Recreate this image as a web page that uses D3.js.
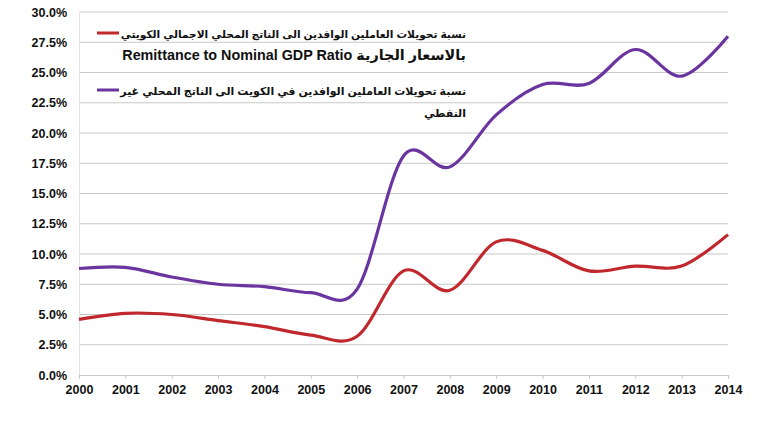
<!DOCTYPE html>
<html>
<head>
<meta charset="utf-8">
<script src="https://cdn.jsdelivr.net/npm/d3@7"></script>
<style>
  body { margin: 0; background: #fff; }
  text { font-family: "Liberation Sans", Arial, "DejaVu Sans", sans-serif; }
</style>
</head>
<body>
<script>

// years on the x axis
var years = [2000, 2001, 2002, 2003, 2004, 2005, 2006, 2007, 2008, 2009, 2010, 2011, 2012, 2013, 2014];

// remittances / nominal GDP (red)
var gdp_ratio = [4.6, 5.1, 5.0, 4.5, 4.0, 3.3, 3.2, 8.6, 7.0, 11.0, 10.3, 8.6, 9.0, 9.0, 11.6];

// remittances / non-oil GDP (purple)
var non_oil_ratio = [8.8, 8.9, 8.1, 7.5, 7.3, 6.8, 7.1, 18.1, 17.2, 21.5, 24.0, 24.1, 26.9, 24.7, 28.0];

var y_ticks = [0, 2.5, 5, 7.5, 10, 12.5, 15, 17.5, 20, 22.5, 25, 27.5, 30];

var legend_red = ["نسبة تحويلات العاملين الوافدين الى الناتج المحلي الاجمالي الكويتي", "بالاسعار الجارية Remittance to Nominal GDP Ratio"];
var legend_purple = ["نسبة تحويلات العاملين الوافدين في الكويت الى الناتج المحلي غير", "النفطي"];

var svg_width = 770;
var svg_height = 421;

var svg = d3.select("body")
    .append("svg")
    .attr("width", svg_width)
    .attr("height", svg_height);

// scales
var x_scale = d3.scaleLinear()
    .domain([2000, 2014])
    .range([79, 728]);

var y_scale = d3.scaleLinear()
    .domain([0, 30])
    .range([375, 12]);

// gridlines
svg.append("g")
  .selectAll("line")
  .data(y_ticks.slice(1))
  .enter()
  .append("line")
    .attr("x1", 79)
    .attr("x2", 728)
    .attr("y1", function(d) { return y_scale(d); })
    .attr("y2", function(d) { return y_scale(d); })
    .attr("stroke", "#c8c8c8")
    .attr("stroke-width", 1.2);

// y axis
var y_axis = d3.axisLeft(y_scale)
    .tickValues(y_ticks)
    .tickSize(0)
    .tickPadding(12)
    .tickFormat(function(d) { return d.toFixed(1) + "%"; });

var gy = svg.append("g")
    .attr("transform", "translate(79,0)")
    .call(y_axis);
gy.select(".domain").attr("stroke", "#e2e2e2");
gy.selectAll("text")
    .attr("font-size", 12.5)
    .attr("font-weight", "bold")
    .attr("fill", "#111");

// x axis
var x_axis = d3.axisBottom(x_scale)
    .tickValues(years)
    .tickSize(4)
    .tickPadding(6)
    .tickFormat(d3.format("d"));

var gx = svg.append("g")
    .attr("transform", "translate(0,375)")
    .call(x_axis);
gx.select(".domain").attr("stroke", "#c8c8c8").attr("stroke-width", 1.2);
gx.selectAll(".tick line").attr("stroke", "#c8c8c8");
gx.selectAll("text")
    .attr("font-size", 12.5)
    .attr("font-weight", "bold")
    .attr("fill", "#111");

// smoothed lines like excel
var line = d3.line()
    .x(function(d, i) { return x_scale(years[i]); })
    .y(function(d) { return y_scale(d); })
    .curve(d3.curveCardinal.tension(0));

svg.append("path")
    .datum(non_oil_ratio)
    .attr("d", line)
    .attr("fill", "none")
    .attr("stroke", "#6b35a0")
    .attr("stroke-width", 3.2);

svg.append("path")
    .datum(gdp_ratio)
    .attr("d", line)
    .attr("fill", "none")
    .attr("stroke", "#c0282d")
    .attr("stroke-width", 3.2);

// legend, text is right aligned at x = 466
function legend_entry(lines, color, y, widths){
  svg.append("line")
    .attr("x1", 97)
    .attr("x2", 119)
    .attr("y1", y)
    .attr("y2", y)
    .attr("stroke", color)
    .attr("stroke-width", 3);

  var size = 14;
  lines.forEach(function(t, i){
    var txt = svg.append("text")
      .attr("x", 466)
      .attr("y", y + 5 + i * 22)
      .attr("text-anchor", "start")
      .attr("direction", "rtl")
      .attr("font-size", 14)
      .attr("font-weight", "bold")
      .attr("fill", "#111")
      .text(t);

    // shrink the font so the line fits the width seen in the picture
    if (widths[i]){
      var w = txt.node().getComputedTextLength();
      size = 14 * widths[i] / w;
    }
    txt.attr("font-size", size);
  });
}

legend_entry(legend_red, "#c0282d", 33, [346, 344]);
legend_entry(legend_purple, "#6b35a0", 90, [346, 0]);

</script>
</body>
</html>
